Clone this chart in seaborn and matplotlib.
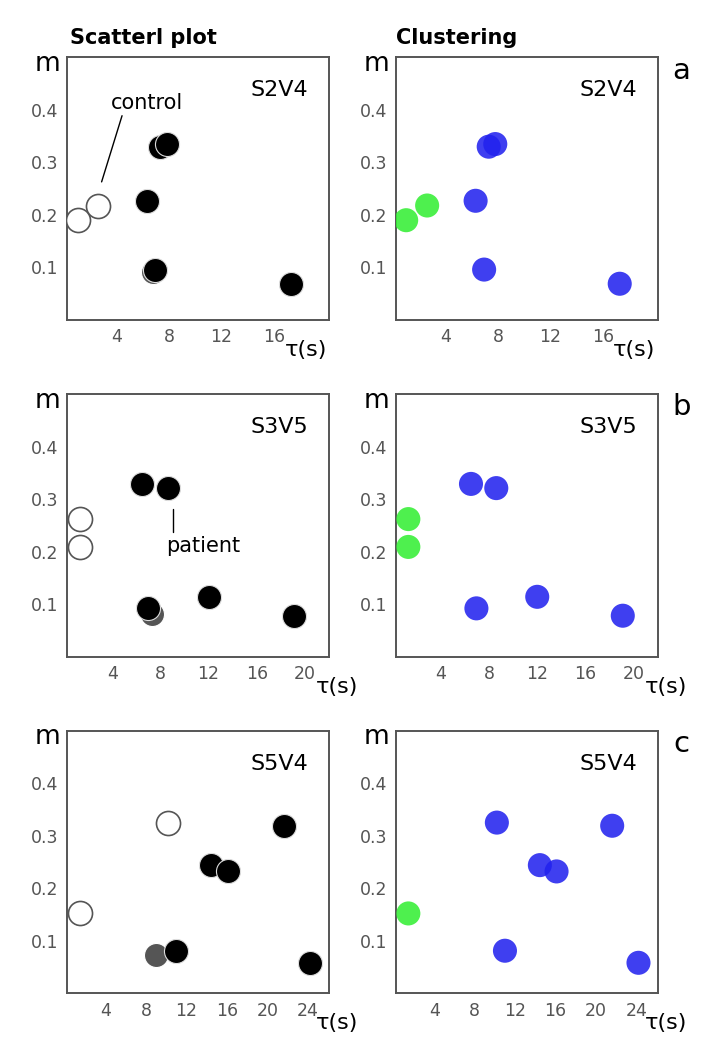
import numpy as np
import pandas as pd
import matplotlib
matplotlib.use("Agg")
import matplotlib.pyplot as plt
import seaborn as sns

sns.set_style("white")
plt.rcParams['font.family'] = ['DejaVu Sans']
plt.rcParams['text.color'] = 'black'

# valores (tau em s, m)
samples = ['S2V4', 'S3V5', 'S5V4']
letters = ['a', 'b', 'c']

control_tau = [[1.0, 2.6], [1.3, 1.3], [1.45, 10.2]]
control_m = [[0.190, 0.218], [0.262, 0.209], [0.152, 0.325]]
# grupo atribuido pelo clustering a cada controlo (1 = verde, 2 = azul)
control_cluster = [[1, 1], [1, 1], [1, 2]]

patient_tau = [[6.3, 7.3, 7.8, 6.95, 17.3],
               [6.5, 8.6, 6.95, 12.0, 19.1],
               [14.45, 16.1, 21.6, 11.0, 24.2]]
patient_m = [[0.227, 0.330, 0.335, 0.096, 0.069],
             [0.329, 0.321, 0.092, 0.114, 0.078],
             [0.244, 0.232, 0.319, 0.081, 0.058]]
patient_cluster = [[2, 2, 2, 2, 2], [2, 2, 2, 2, 2], [2, 2, 2, 2, 2]]

# pontos cinzentos (fora do agrupamento)
grey_tau = [[6.8], [7.3], [8.95]]
grey_m = [[0.091], [0.082], [0.073]]

x_limits = [(0.2, 20.2), (0.25, 22.0), (0.2, 26.1)]
x_ticks = [[4, 8, 12, 16], [4, 8, 12, 16, 20], [4, 8, 12, 16, 20, 24]]
y_ticks = [0.1, 0.2, 0.3, 0.4]
tau_label_x = [0.83, 0.95, 0.95]

cluster_colors = {1: '#33ee33', 2: '#2222ee'}
edge_grey = '#555555'

fig = plt.figure(figsize=(7.23, 10.44), dpi=100)
bottoms = [0.6935, 0.371, 0.0486]


def style_axes(ax, i):
    ax.set_xlim(*x_limits[i])
    ax.set_ylim(0, 0.5)
    ax.set_xticks(x_ticks[i])
    ax.set_yticks(y_ticks)
    ax.set_yticklabels([f'{v:.1f}' for v in y_ticks])
    ax.tick_params(direction='in', length=4, width=1.2, colors=edge_grey,
                   labelsize=12.5, labelcolor='#555555', pad=6)
    for sp in ax.spines.values():
        sp.set_color(edge_grey)
        sp.set_linewidth(1.4)
    ax.set_xlabel('')
    ax.set_ylabel('')
    ax.text(-0.075, 0.975, 'm', transform=ax.transAxes, fontsize=19,
            ha='center', va='center')
    ax.text(tau_label_x[i], -0.115, 'τ(s)', transform=ax.transAxes,
            fontsize=16, ha='left', va='center')
    ax.text(0.92, 0.875, samples[i], transform=ax.transAxes, fontsize=16,
            ha='right', va='center')


for i in range(3):
    ax_l = fig.add_axes([0.0927, bottoms[i], 0.3624, 0.2515])
    ax_r = fig.add_axes([0.5473, bottoms[i], 0.3624, 0.2515])

    ctrl = pd.DataFrame({'tau': control_tau[i], 'm': control_m[i]})
    pat = pd.DataFrame({'tau': patient_tau[i], 'm': patient_m[i]})
    gry = pd.DataFrame({'tau': grey_tau[i], 'm': grey_m[i]})
    allp = pd.DataFrame({
        'tau': control_tau[i] + patient_tau[i],
        'm': control_m[i] + patient_m[i],
        'cluster': control_cluster[i] + patient_cluster[i],
    })

    # scatter plot (esquerda)
    sns.scatterplot(data=gry, x='tau', y='m', ax=ax_l, s=300, color='#555555',
                    edgecolor='white', linewidth=0.8, zorder=2)
    sns.scatterplot(data=pat, x='tau', y='m', ax=ax_l, s=300, color='black',
                    edgecolor='#dddddd', linewidth=0.8, zorder=3)
    sns.scatterplot(data=ctrl, x='tau', y='m', ax=ax_l, s=300, color='white',
                    edgecolor=edge_grey, linewidth=1.2, zorder=3)

    # clustering (direita)
    sns.scatterplot(data=allp, x='tau', y='m', hue='cluster',
                    palette=cluster_colors, ax=ax_r, s=300, edgecolor='none',
                    alpha=0.87, legend=False, zorder=3)

    style_axes(ax_l, i)
    style_axes(ax_r, i)
    ax_r.text(1.09, 0.95, letters[i], transform=ax_r.transAxes, fontsize=21,
              ha='center', va='center')

    if i == 0:
        ax_l.plot([4.4, 2.84], [0.389, 0.263], color='black', lw=1)
        ax_l.text(6.3, 0.413, 'control', fontsize=15, ha='center',
                  va='center')
        ax_l.set_title('Scatterl plot', fontsize=15, fontweight='bold',
                       loc='left', x=0.01, pad=10)
        ax_r.set_title('Clustering', fontsize=15, fontweight='bold',
                       loc='left', x=0.0, pad=10)
    if i == 1:
        ax_l.plot([9.04, 9.04], [0.281, 0.238], color='black', lw=1)
        ax_l.text(8.5, 0.21, 'patient', fontsize=15, ha='left', va='center')

fig.savefig('out.png', dpi=100)
